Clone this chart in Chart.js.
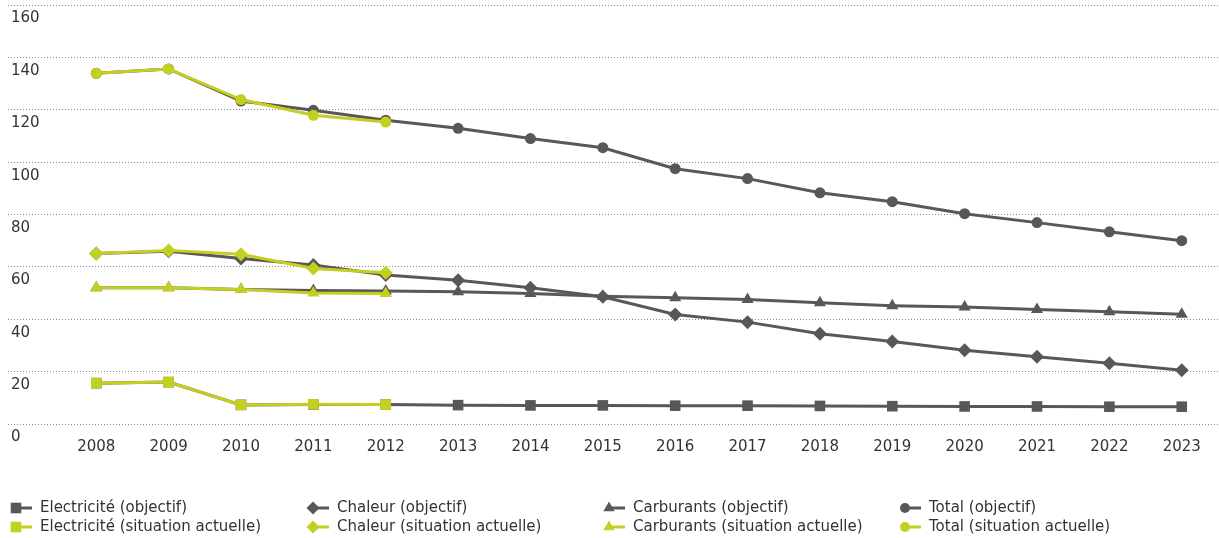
<!DOCTYPE html>
<html>
<head>
<meta charset="utf-8">
<script src="https://cdn.jsdelivr.net/npm/chart.js@4/dist/chart.umd.min.js"></script>
<style>
  html, body { margin: 0; padding: 0; background: #ffffff; overflow: hidden; }
  #wrap { width: 1219px; height: 538px; position: relative; }
  canvas { display: block; }
</style>
</head>
<body>
<div id="wrap"><canvas id="energyChart"></canvas></div>
<script>
// ================= DATA =================

const years = [2008, 2009, 2010, 2011, 2012, 2013, 2014, 2015,
               2016, 2017, 2018, 2019, 2020, 2021, 2022, 2023];

const yTicks = [0, 20, 40, 60, 80, 100, 120, 140, 160];

// objectif (grey) series
const elecObjectif = [15.6, 16.0, 7.3, 7.4, 7.4, 7.2, 7.1, 7.1, 7.0, 7.0, 6.9, 6.8, 6.7, 6.7, 6.6, 6.6];
const chaleurObjectif = [65.1, 66.0, 63.2, 60.7, 56.9, 54.9, 52.0, 48.6, 41.8, 38.9, 34.5, 31.5, 28.2, 25.7, 23.2, 20.5];
const carburantsObjectif = [52.0, 52.0, 51.4, 51.0, 50.8, 50.5, 49.8, 48.8, 48.2, 47.5, 46.3, 45.2, 44.7, 43.7, 42.9, 41.9];
const totalObjectif = [133.9, 135.6, 123.3, 119.8, 116.0, 112.9, 109.0, 105.5, 97.5, 93.7, 88.3, 84.9, 80.3, 76.9, 73.4, 70.0];

// situation actuelle (green) series, 2008-2012
const elecActuelle = [15.6, 16.0, 7.3, 7.5, 7.4];
const chaleurActuelle = [65.1, 66.3, 64.8, 59.4, 57.8];
const carburantsActuelle = [52.0, 52.0, 51.4, 50.0, 49.8];
const totalActuelle = [133.9, 135.6, 123.9, 117.9, 115.3];

const seriesNames = ["Electricité", "Chaleur", "Carburants", "Total"];

// ================= STYLE =================

const GREY = "#58585a";
const GREEN = "#c4d021";
const TEXT = "#333333";

const markers = [
    { style: "rect", radius: 7.5, legendRadius: 7.5 },
    { style: "rectRot", radius: 7, legendRadius: 6.5 },
    { style: "triangle", radius: 7, legendRadius: 6.5 },
    { style: "circle", radius: 5.5, legendRadius: 5 }
];

function toPoints(values) {
    return values.map((v, i) => ({ x: years[i], y: v }));
}

function makeDataset(name, values, kind, idx) {
    const color = kind === "objectif" ? GREY : GREEN;
    return {
        label: name + (kind === "objectif" ? " (objectif)" : " (situation actuelle)"),
        data: toPoints(values),
        borderColor: color,
        backgroundColor: color,
        borderWidth: 3,
        pointStyle: markers[idx].style,
        pointRadius: markers[idx].radius,
        pointBorderWidth: 0,
        pointHoverRadius: markers[idx].radius,
        tension: 0,
        order: kind === "objectif" ? 1 : 0,
        legendRow: kind === "objectif" ? 0 : 1,
        legendCol: idx,
        legendRadius: markers[idx].legendRadius
    };
}

const objectifData = [elecObjectif, chaleurObjectif, carburantsObjectif, totalObjectif];
const actuelleData = [elecActuelle, chaleurActuelle, carburantsActuelle, totalActuelle];

const datasets = [];
seriesNames.forEach((name, i) => datasets.push(makeDataset(name, objectifData[i], "objectif", i)));
seriesNames.forEach((name, i) => datasets.push(makeDataset(name, actuelleData[i], "actuelle", i)));

// ================= LEGEND (drawn in fixed columns) =================

const legendColumns = [16, 313, 609, 905];
const legendRows = [508, 527];

const fixedLegend = {
    id: "fixedLegend",
    afterDraw(chart) {
        const { ctx } = chart;
        ctx.save();
        chart.data.datasets.forEach(ds => {
            const x = legendColumns[ds.legendCol];
            const y = legendRows[ds.legendRow];

            ctx.strokeStyle = ds.borderColor;
            ctx.lineWidth = 3;
            ctx.beginPath();
            ctx.moveTo(x, y);
            ctx.lineTo(x + 16, y);
            ctx.stroke();

            ctx.fillStyle = ds.backgroundColor;
            Chart.helpers.drawPoint(ctx, {
                pointStyle: ds.pointStyle,
                radius: ds.legendRadius,
                rotation: 0,
                borderWidth: 0
            }, x, y);

            ctx.fillStyle = TEXT;
            ctx.font = "15px 'DejaVu Sans'";
            ctx.textAlign = "left";
            ctx.textBaseline = "middle";
            ctx.fillText(ds.label, x + 24, y);
        });
        ctx.restore();
    }
};

// ================= CHART =================

new Chart(
    document.getElementById("energyChart"),
    {
        type: "line",
        data: { datasets: datasets },
        options: {
            responsive: true,
            maintainAspectRatio: false,
            animation: false,
            layout: {
                autoPadding: false,
                padding: { top: 5, left: 8, right: 0, bottom: 70 }
            },
            plugins: {
                legend: { display: false },
                tooltip: { enabled: false }
            },
            scales: {
                x: {
                    type: "linear",
                    min: 2006.78,
                    max: 2023.515,
                    afterBuildTicks(scale) {
                        scale.ticks = years.map(v => ({ value: v }));
                    },
                    afterFit(scale) {
                        scale.height = 44;
                        scale.paddingLeft = 0;
                        scale.paddingRight = 0;
                    },
                    grid: { display: false, drawTicks: false },
                    border: { display: false },
                    ticks: {
                        color: TEXT,
                        padding: 14,
                        font: { family: "'DejaVu Sans'", size: 15 },
                        callback: v => String(v)
                    }
                },
                y: {
                    min: 0,
                    max: 160,
                    afterBuildTicks(scale) {
                        scale.ticks = yTicks.map(v => ({ value: v }));
                    },
                    afterFit(scale) {
                        scale.width = 0;
                        scale.paddingTop = 0;
                        scale.paddingBottom = 0;
                    },
                    grid: {
                        color: "#8a8a8a",
                        lineWidth: 1,
                        drawTicks: false
                    },
                    border: { display: false, dash: [1, 2] },
                    ticks: {
                        mirror: true,
                        align: "start",
                        padding: 3,
                        labelOffset: 6,
                        color: TEXT,
                        font: { family: "'DejaVu Sans'", size: 15 }
                    }
                }
            }
        },
        plugins: [fixedLegend]
    }
);
</script>
</body>
</html>
